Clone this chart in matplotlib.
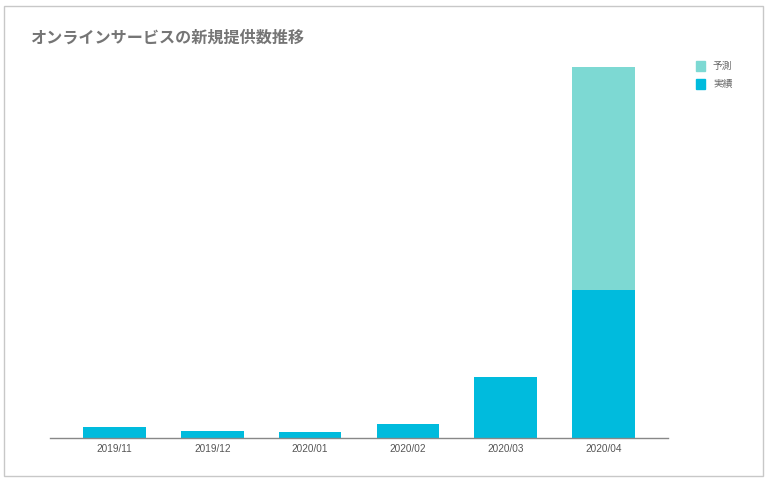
import matplotlib
matplotlib.use("Agg")
import matplotlib.pyplot as plt
from matplotlib.patches import Rectangle
import numpy as np

plt.rcParams['font.family'] = ['Noto Sans CJK JP', 'DejaVu Sans']

# data
months = ["2019/11", "2019/12", "2020/01", "2020/02", "2020/03", "2020/04"]
jisseki = [11, 7, 6, 14, 61, 148]
yosoku = [0, 0, 0, 0, 0, 223]

col_jisseki = "#00bbdd"
col_yosoku = "#7dd9d3"

W, H = 768, 482
fig = plt.figure(figsize=(W / 100, H / 100), dpi=100)

# outer frame
fig.patches.append(Rectangle((4 / W, 6 / H), 759 / W, 470 / H, transform=fig.transFigure,
                             fill=False, edgecolor="#c8c8c8", linewidth=1))

ax = fig.add_axes([50 / W, 44 / H, 618 / W, 378 / H])
x = np.arange(len(months))
ax.bar(x, jisseki, width=0.64, color=col_jisseki, label="実績")
ax.bar(x, yosoku, width=0.64, bottom=jisseki, color=col_yosoku, label="予測")

ax.set_xlim(-0.66, 5.66)
ax.set_ylim(0, 378)
ax.set_xticks(x)
ax.set_xticklabels(months, fontsize=7.2, color="#555555", family=['Liberation Sans', 'DejaVu Sans'])
ax.tick_params(axis="x", length=0, pad=4)
ax.set_yticks([])
for s in ["top", "right", "left"]:
    ax.spines[s].set_visible(False)
ax.spines["bottom"].set_color("#888888")
ax.spines["bottom"].set_linewidth(1)

fig.text(30 / W, 1 - 38 / H, "オンラインサービスの新規提供数推移", fontsize=11.6, fontweight="bold",
         color="#757575", va="center", ha="left")

# legend
for i, (lab, c) in enumerate([("予測", col_yosoku), ("実績", col_jisseki)]):
    yc = 66 + i * 18
    fig.patches.append(Rectangle((696 / W, 1 - (yc + 4.5) / H), 9 / W, 9 / H,
                                 transform=fig.transFigure, color=c))
    fig.text(713 / W, 1 - yc / H, lab, fontsize=7, color="#666666", va="center", ha="left")

fig.savefig("out.png", dpi=100)
